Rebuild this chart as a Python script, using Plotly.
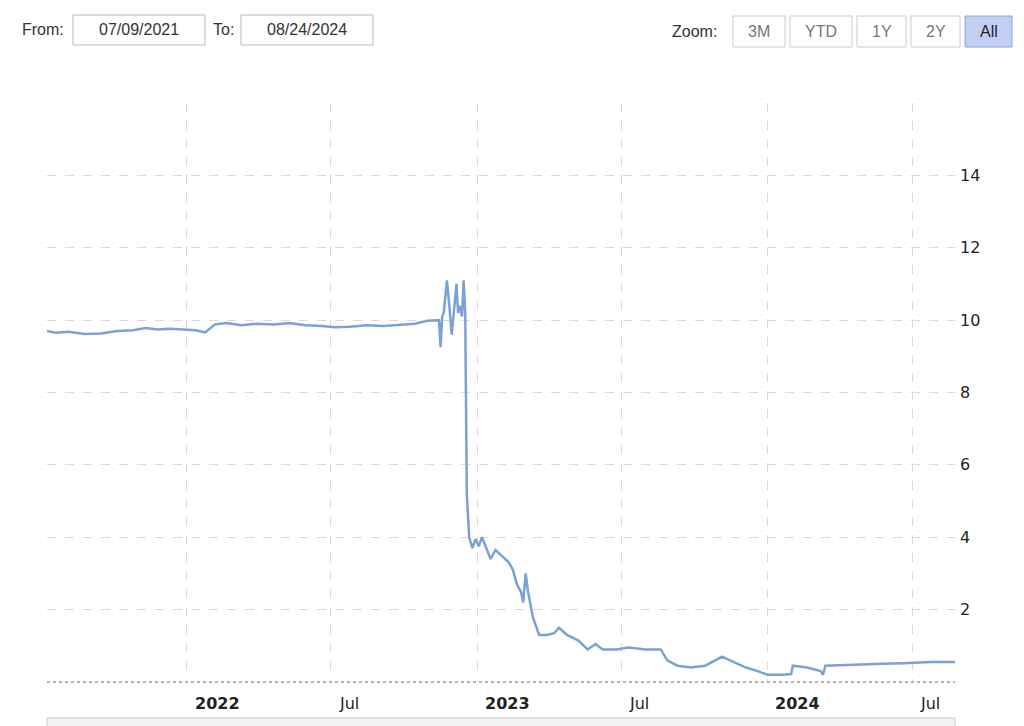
import plotly.graph_objects as go

dates = [
    "2021-07-09", "2021-07-20", "2021-08-05", "2021-08-25", "2021-09-15", "2021-10-05", "2021-10-25",
    "2021-11-10", "2021-11-25", "2021-12-10", "2021-12-28", "2022-01-12", "2022-01-24", "2022-02-05",
    "2022-02-20", "2022-03-10", "2022-03-30", "2022-04-20", "2022-05-10", "2022-05-30", "2022-06-20",
    "2022-07-05", "2022-07-25", "2022-08-15", "2022-09-05", "2022-09-25", "2022-10-15", "2022-10-30",
    "2022-11-10", "2022-11-14", "2022-11-16", "2022-11-18", "2022-11-20", "2022-11-24", "2022-11-27",
    "2022-11-30", "2022-12-03", "2022-12-06", "2022-12-08", "2022-12-10", "2022-12-13", "2022-12-15",
    "2022-12-17", "2022-12-19", "2022-12-22", "2022-12-26", "2022-12-30", "2023-01-03", "2023-01-07",
    "2023-01-13", "2023-01-18", "2023-01-24", "2023-01-31", "2023-02-10", "2023-02-15", "2023-02-20",
    "2023-02-25", "2023-02-28", "2023-03-03", "2023-03-06", "2023-03-12", "2023-03-20", "2023-03-30",
    "2023-04-08", "2023-04-14", "2023-04-24", "2023-05-08", "2023-05-20", "2023-05-30", "2023-06-08",
    "2023-06-25", "2023-07-10", "2023-08-01", "2023-08-20", "2023-08-28", "2023-09-10", "2023-09-27",
    "2023-10-15", "2023-11-05", "2023-11-20", "2023-12-05", "2023-12-20", "2024-01-01", "2024-01-20",
    "2024-01-31", "2024-02-02", "2024-02-20", "2024-03-08", "2024-03-11", "2024-03-14", "2024-04-10",
    "2024-05-15", "2024-06-20", "2024-07-25", "2024-08-24",
]
values = [
    9.70, 9.65, 9.68, 9.62, 9.63, 9.70, 9.72,
    9.78, 9.74, 9.76, 9.74, 9.72, 9.66, 9.88,
    9.92, 9.86, 9.90, 9.88, 9.92, 9.86, 9.84,
    9.80, 9.82, 9.86, 9.84, 9.88, 9.90, 9.98,
    10.0, 10.0, 9.25, 10.1, 10.2, 11.1, 10.4,
    9.60, 10.3, 11.0, 10.2, 10.4, 10.1, 11.1,
    10.2, 5.20, 4.00, 3.70, 3.95, 3.75, 4.00,
    3.70, 3.40, 3.65, 3.50, 3.30, 3.10, 2.70,
    2.50, 2.20, 3.00, 2.50, 1.80, 1.30, 1.30,
    1.35, 1.50, 1.30, 1.15, 0.90, 1.05, 0.90,
    0.90, 0.95, 0.90, 0.90, 0.60, 0.45, 0.40,
    0.45, 0.70, 0.55, 0.40, 0.30, 0.20, 0.20,
    0.22, 0.45, 0.40, 0.30, 0.20, 0.45, 0.48,
    0.50, 0.52, 0.55, 0.55,
]

x_tick_dates = ["2022-01-01", "2022-07-01", "2023-01-01", "2023-07-01", "2024-01-01", "2024-07-01"]
x_tick_text = ["<b>2022</b>", "Jul", "<b>2023</b>", "Jul", "<b>2024</b>", "Jul"]
y_ticks = [2, 4, 6, 8, 10, 12, 14, 16]
y_tick_text = ["2", "4", "6", "8", "10", "12", "14", ""]

# page adds an 8px body margin, so the figure is drawn 8px smaller and shifted
OFF = 8
W, H = 1024 - OFF, 726 - OFF
L, R, T, B = 47, 955, 103, 682


def px(x):
    return (x - L) / (R - L)


def py(y):
    return (B - y) / (B - T)


fig = go.Figure()
fig.add_trace(go.Scatter(x=dates, y=values, mode='lines', line=dict(color='#7aa3d4', width=2.5)))

font = dict(family='Liberation Sans, Arial', size=16, color='#333')


def label(x, y, text, fnt, xanchor='center', xref='paper', xshift=0):
    fig.add_annotation(x=x, y=y, xref=xref, yref='paper', text=text, showarrow=False,
                       xanchor=xanchor, yanchor='middle', xshift=xshift, font=fnt)


for d, t in zip(x_tick_dates, x_tick_text):
    label(d, py(703), t, dict(family='DejaVu Sans', size=16, color='#222'), xanchor='left', xref='x', xshift=6)

label(px(20), py(30), 'From:', font, xanchor='left')
label(px(211), py(30), 'To:', font, xanchor='left')
label(px(670), py(31), 'Zoom:', font, xanchor='left')

boxes = [(73, 205, '07/09/2021'), (241, 373, '08/24/2024')]
for x0, x1, t in boxes:
    fig.add_shape(type='rect', xref='paper', yref='paper', x0=px(x0), x1=px(x1), y0=py(45), y1=py(15),
                  line=dict(color='#bbb', width=1), fillcolor='white')
    label(px((x0 + x1) / 2), py(30), t, font)

buttons = [(733, 785, '3M'), (790, 852, 'YTD'), (857, 906, '1Y'), (911, 960, '2Y'), (965, 1012, 'All')]
for x0, x1, t in buttons:
    sel = t == 'All'
    fig.add_shape(type='rect', xref='paper', yref='paper', x0=px(x0), x1=px(x1), y0=py(47), y1=py(16),
                  line=dict(color='#8fa3d8' if sel else '#ccc', width=1),
                  fillcolor='#c3cff2' if sel else 'white')
    label(px((x0 + x1) / 2), py(31), t,
          dict(family='Liberation Sans, Arial', size=16, color='#222' if sel else '#777'))

fig.add_shape(type='line', xref='paper', yref='paper', x0=0, x1=1, y0=0, y1=0,
              line=dict(color='#999', width=1.5, dash='dot'))
fig.add_shape(type='rect', xref='paper', yref='paper', x0=0, x1=1, y0=py(718), y1=py(730),
              line=dict(color='#ccc', width=1), fillcolor='#f2f2f2')

fig.update_layout(
    width=W, height=H,
    margin=dict(l=L - OFF, r=1024 - R, t=T - OFF, b=726 - B),
    paper_bgcolor='white', plot_bgcolor='white',
    showlegend=False,
    xaxis=dict(range=["2021-07-09", "2024-08-24"], tickvals=x_tick_dates, showticklabels=False,
               showgrid=True, gridcolor='#d9d9d9', griddash='dash', zeroline=False, showline=False),
    yaxis=dict(range=[0, 16], side='right', tickvals=y_ticks, ticktext=y_tick_text,
               showgrid=True, gridcolor='#d9d9d9', griddash='dash', zeroline=False, showline=False,
               tickfont=dict(family='DejaVu Sans', size=16, color='#222'), ticklabelstandoff=4),
)

fig.write_html("out.html")
